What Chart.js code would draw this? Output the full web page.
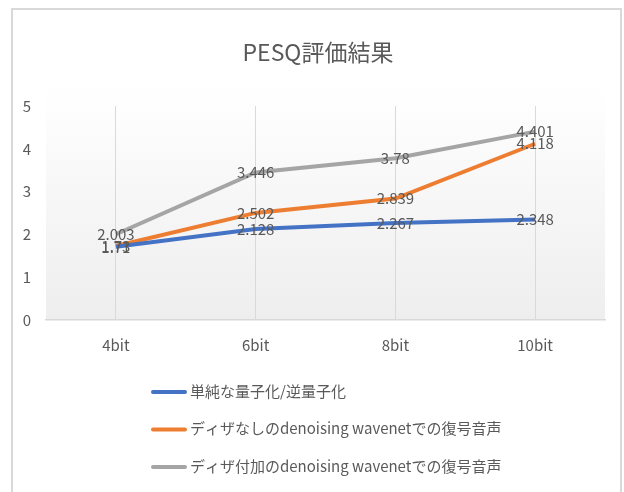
<!DOCTYPE html>
<html>
<head>
<meta charset="utf-8">
<script src="https://cdn.jsdelivr.net/npm/chart.js@4/dist/chart.umd.min.js"></script>
<style>
  html, body { margin: 0; padding: 0; background: #ffffff; }
  #wrap { position: relative; width: 624px; height: 492px; }
  canvas { display: block; }
</style>
</head>
<body>
<div id="wrap"><canvas id="c" width="624" height="492"></canvas></div>
<script>
const titleText = 'PESQ評価結果';
const categories = ['4bit', '6bit', '8bit', '10bit'];
const seriesNames = [
  '単純な量子化/逆量子化',
  'ディザなしのdenoising wavenetでの復号音声',
  'ディザ付加のdenoising wavenetでの復号音声'
];
const simpleQuant = [1.71, 2.128, 2.267, 2.348];
const noDither = [1.73, 2.502, 2.839, 4.118];
const withDither = [2.003, 3.446, 3.78, 4.401];
const seriesColors = ['#4472C4', '#ED7D31', '#A5A5A5'];
const yTicks = [0, 1, 2, 3, 4, 5];

const FONT = "'Noto Sans CJK JP', 'Noto Sans', sans-serif";
const TEXT = '#595959';

const decor = {
  id: 'decor',
  beforeDraw(chart) {
    const ctx = chart.ctx;
    const a = chart.chartArea;
    ctx.save();
    ctx.fillStyle = '#ffffff';
    ctx.fillRect(0, 0, chart.width, chart.height);
    ctx.strokeStyle = '#d9d9d9';
    ctx.lineWidth = 2;
    ctx.strokeRect(12, 9, 609, 500);
    const g = ctx.createLinearGradient(0, a.top - 20, 0, a.bottom);
    g.addColorStop(0, '#ffffff');
    g.addColorStop(1, '#eeeeee');
    ctx.fillStyle = g;
    ctx.fillRect(a.left, a.top - 20, a.right - a.left, a.bottom - a.top + 20);
    ctx.restore();
  },
  afterDatasetsDraw(chart) {
    const ctx = chart.ctx;
    ctx.save();
    ctx.font = '15px ' + FONT;
    ctx.fillStyle = TEXT;
    ctx.textAlign = 'center';
    ctx.textBaseline = 'middle';
    chart.data.datasets.forEach((ds, i) => {
      const meta = chart.getDatasetMeta(i);
      meta.data.forEach((pt, j) => {
        ctx.fillText(String(ds.data[j]), pt.x, pt.y);
      });
    });
    ctx.font = '23px ' + FONT;
    ctx.fillText(titleText, 318, 52);
    ctx.font = '15px ' + FONT;
    ctx.textAlign = 'left';
    chart.data.datasets.forEach((ds, i) => {
      const y = 392 + i * 37.5;
      ctx.strokeStyle = ds.borderColor;
      ctx.lineWidth = 4;
      ctx.lineCap = 'round';
      ctx.beginPath();
      ctx.moveTo(153, y);
      ctx.lineTo(185, y);
      ctx.stroke();
      ctx.fillText(ds.label, 190, y - 1);
    });
    ctx.restore();
  }
};

new Chart(document.getElementById('c'), {
  type: 'line',
  data: {
    labels: categories,
    datasets: [
      { label: seriesNames[0], data: simpleQuant, borderColor: seriesColors[0] },
      { label: seriesNames[1], data: noDither, borderColor: seriesColors[1] },
      { label: seriesNames[2], data: withDither, borderColor: seriesColors[2] }
    ].map(d => Object.assign(d, { borderWidth: 4, pointRadius: 0, tension: 0, fill: false, backgroundColor: d.borderColor }))
  },
  options: {
    responsive: false,
    animation: false,
    layout: { padding: { top: 106, left: 0, right: 19, bottom: 0 } },
    plugins: { legend: { display: false }, title: { display: false }, tooltip: { enabled: false } },
    scales: {
      x: {
        offset: true,
        grid: { display: true, offset: false, color: '#d9d9d9', drawTicks: false, lineWidth: 1 },
        border: { display: true, color: '#d9d9d9', width: 1.5 },
        ticks: { color: TEXT, font: { size: 15, family: FONT }, padding: 16 },
        afterFit(s) { s.height = 172; }
      },
      y: {
        min: 0, max: 5,
        afterBuildTicks(s) { s.ticks = yTicks.map(v => ({ value: v })); },
        grid: { display: false, drawTicks: false },
        border: { display: false },
        ticks: { color: TEXT, font: { size: 15, family: FONT }, padding: 15 },
        afterFit(s) { s.width = 46; }
      }
    }
  },
  plugins: [decor]
});
</script>
</body>
</html>
